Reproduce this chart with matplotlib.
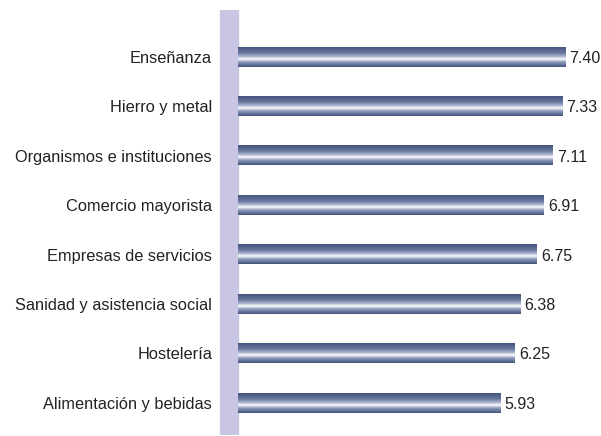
import numpy as np
import matplotlib
matplotlib.use("Agg")
import matplotlib.pyplot as plt
from matplotlib.colors import LinearSegmentedColormap

plt.rcParams['font.family'] = ['Liberation Sans', 'DejaVu Sans']

sectors = ["Enseñanza", "Hierro y metal", "Organismos e instituciones",
           "Comercio mayorista", "Empresas de servicios",
           "Sanidad y asistencia social", "Hostelería", "Alimentación y bebidas"]
scores = [7.40, 7.33, 7.11, 6.91, 6.75, 6.38, 6.25, 5.93]

fig = plt.figure(figsize=(6.01, 4.36), dpi=100)
ax = fig.add_axes([219 / 601, 1 / 436, 382 / 601, 425 / 436])

# metallic look: dark edges, white streak just below the middle
cmap = LinearSegmentedColormap.from_list("bar", [
    (0.0, "#44547e"), (0.3, "#6a79a0"), (0.5, "#b9c1d8"),
    (0.6, "#ffffff"), (0.75, "#8e9bbb"), (1.0, "#44547e")])
grad = np.linspace(0, 1, 64).reshape(-1, 1)

h = 0.39
for i, v in enumerate(scores):
    ax.imshow(grad, cmap=cmap, aspect="auto", interpolation="bilinear",
              extent=[0, v, i + h / 2, i - h / 2], zorder=2)
    ax.text(v + 0.1, i + 0.03, f"{v:.2f}", va="center", ha="left",
            fontsize=11.5, color="#222222")

ax.axvspan(-0.41, 0, color="#c8c6e2", zorder=1)
ax.set_xlim(-0.43, 8.21)
ax.set_ylim(7.65, -0.95)

ax.set_yticks(range(len(sectors)))
ax.set_yticklabels(sectors, fontsize=11.8, color="#222222")
ax.tick_params(axis="y", length=0, pad=5)
ax.set_xticks([])
for s in ax.spines.values():
    s.set_visible(False)

fig.savefig("out.png", dpi=100)
